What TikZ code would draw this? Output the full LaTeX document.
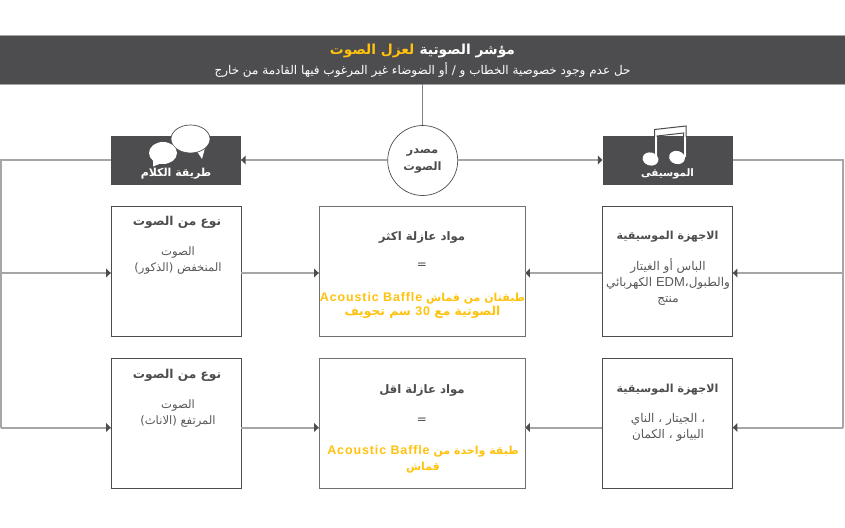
\documentclass[tikz,border=0pt]{standalone}
\usepackage{fontspec}
\usetikzlibrary{calc}
\TeXXeTstate=1
\newfontfamily\arabicfont[Script=Arabic]{DejaVu Sans}
\newfontfamily\latinfont[LetterSpace=7]{Liberation Sans}
\newfontfamily\latinplain{Liberation Sans}
\definecolor{dk}{HTML}{4D4D4F}
\definecolor{ln}{HTML}{A6A6A6}
\definecolor{tx}{HTML}{58595B}
\definecolor{yl}{HTML}{FFC20E}
\newcommand{\ar}[1]{\arabicfont\beginR #1\endR}
\newcommand{\lt}[1]{\beginL{\latinfont\fontsize{12.5}{14}\selectfont #1}\endL}
\newcommand{\ltp}[1]{\beginL{\latinplain\fontsize{13}{14}\selectfont #1}\endL}
% arrowheads: #1 = tip point, #2 = +1 pointing left (body to the right), -1 pointing right
\newcommand{\tiphead}[2]{\fill[dk] #1 -- ++(#2*4.5,-4.5) -- ++(0,9) -- cycle;}
\tikzset{
  boxnode/.style={draw=dk,fill=white,line width=.8pt,inner sep=0pt,minimum width=130pt,minimum height=130pt},
  midbox/.style={boxnode,draw=dk!80,minimum width=206pt},
  headbox/.style={fill=dk,inner sep=0pt,minimum width=130pt,minimum height=49pt},
  conn/.style={draw=ln,line width=2pt},
  heading/.style={text=dk,font=\fontsize{11.7}{14}\selectfont\bfseries,inner sep=0pt},
  body/.style={text=tx,align=center,font=\fontsize{12}{16}\selectfont,inner sep=0pt},
  accent/.style={text=yl,align=center,font=\fontsize{11}{14}\selectfont\bfseries,inner sep=0pt},
  headlabel/.style={text=white,font=\fontsize{11}{13}\selectfont\bfseries,inner sep=0pt}
}
\begin{document}
\begin{tikzpicture}[x=1pt,y=-1pt]
\useasboundingbox (0,0) rectangle (845,527);
% reference rows for the connectors
\coordinate (rowa) at (0,160);
\coordinate (rowb) at (0,273);
\coordinate (rowc) at (0,427.5);
\node[fill=dk,draw=ln,line width=.4pt,minimum width=847pt,minimum height=49pt,inner sep=0pt] (banner) at (422.5,59.5) {};
\node[headbox] (hl) at (176,160.5) {};
\node[headbox] (hr) at (667.5,160.5) {};
\node[boxnode] (la) at (176,271) {};
\node[boxnode] (lb) at (176,423.5) {};
\node[midbox] (ma) at (422,271) {};
\node[midbox] (mb) at (422,423.5) {};
\node[boxnode] (ra) at (667.5,271) {};
\node[boxnode] (rb) at (667.5,423.5) {};
\node[circle,draw=dk,line width=.7pt,fill=white,minimum size=70pt,inner sep=0pt] (src) at (422.7,160.5) {};
\coordinate (lbus) at (1,160);
\coordinate (rbus) at (843,160);
% connectors
\draw[line width=.8pt,draw=dk!70] (banner.south -| src) -- (src.north);
\draw[conn] (src.west |- rowa) -- (hl.east |- rowa);
\draw[conn] (src.east |- rowa) -- (hr.west |- rowa);
\draw[conn] (hl.west |- rowa) -- (lbus) -- (lbus |- rowc);
\draw[conn] (lbus |- rowb) -- (la.west |- rowb);
\draw[conn] (lbus |- rowc) -- (lb.west |- rowc);
\draw[conn] (hr.east |- rowa) -- (rbus) -- (rbus |- rowc);
\draw[conn] (rbus |- rowb) -- (ra.east |- rowb);
\draw[conn] (rbus |- rowc) -- (rb.east |- rowc);
\draw[conn] (la.east |- rowb) -- (ma.west |- rowb);
\draw[conn] (lb.east |- rowc) -- (mb.west |- rowc);
\draw[conn] (ra.west |- rowb) -- (ma.east |- rowb);
\draw[conn] (rb.west |- rowc) -- (mb.east |- rowc);
% arrowheads
\tiphead{(hl.east |- rowa)}{1}
\tiphead{(hr.west |- rowa)}{-1}
\tiphead{(la.west |- rowb)}{-1}
\tiphead{(lb.west |- rowc)}{-1}
\tiphead{(ra.east |- rowb)}{1}
\tiphead{(rb.east |- rowc)}{1}
\tiphead{(ma.west |- rowb)}{-1}
\tiphead{(mb.west |- rowc)}{-1}
\tiphead{(ma.east |- rowb)}{1}
\tiphead{(mb.east |- rowc)}{1}
% music icon
\fill[white,draw=dk,line width=1pt] (654.5,158) -- (654.5,129.5) -- (686,126) -- (686,157) -- (683.5,157) -- (683.5,133) -- (657,136) -- (657,158) -- cycle;
\fill[white] (650.5,159) ellipse[x radius=8pt,y radius=6.5pt,rotate=-15];
\fill[white] (677,157.5) ellipse[x radius=8pt,y radius=6.5pt,rotate=-15];
\fill[white] (654.5,136.5) rectangle (657,158);
\fill[white] (683.5,136.5) rectangle (686,157);
% speech icon
\fill[white] (196,150) -- (202,159) -- (205,148) -- cycle;
\fill[white,draw=dk,line width=.7pt] (190.5,139) ellipse[x radius=19.5pt,y radius=14pt];
\fill[white] (153,158) -- (153,166.5) -- (162,163) -- cycle;
\fill[white] (163,153) ellipse[x radius=14pt,y radius=11pt];
% texts
\node[text=white,font=\fontsize{13.8}{16}\selectfont\bfseries,inner sep=0pt] (t1) at (422.5,50.5) {\textcolor{yl}{\ar{لعزل الصوت}} \ar{مؤشر الصوتية}};
\node[text=white,font=\fontsize{12}{14}\selectfont,inner sep=0pt] (t2) at (422.5,70) {\ar{حل عدم وجود خصوصية الخطاب و / أو الضوضاء غير المرغوب فيها القادمة من خارج}};
\node[headlabel] (t3) at (176,173.5) {\ar{طريقة الكلام}};
\node[headlabel,font=\fontsize{10.3}{13}\selectfont\bfseries] (t4) at (667.5,174) {\ar{الموسيقى}};
\node[heading,align=center,font=\fontsize{11.5}{17}\selectfont\bfseries] (t5) at (422.5,161) {\ar{مصدر}\\\ar{الصوت}};
\node[heading,font=\fontsize{12.2}{14}\selectfont\bfseries] (t6) at (177,222) {\ar{نوع من الصوت}};
\node[body,font=\fontsize{11.6}{16}\selectfont] (t7) at (178,260.5) {\ar{الصوت}\\\ar{المنخفض (الذكور)}};
\node[heading,font=\fontsize{12.2}{14}\selectfont\bfseries] (t8) at (177,375) {\ar{نوع من الصوت}};
\node[body,font=\fontsize{11.6}{16}\selectfont] (t9) at (178,414) {\ar{الصوت}\\\ar{المرتفع (الاناث)}};
\node[heading] (t10) at (422,237) {\ar{مواد عازلة اكثر}};
\node[body,text=dk,font=\arabicfont\fontsize{12}{16}\selectfont] (t11) at (422,266) {=};
\node[accent] (t12) at (422.5,305) {\ar{طبقتان من قماش \lt{Acoustic Baffle}}\\{\fontsize{12.3}{14}\selectfont\ar{الصوتية مع \lt{30} سم تجويف}}};
\node[heading] (t13) at (422,390.5) {\ar{مواد عازلة اقل}};
\node[body,text=dk,font=\arabicfont\fontsize{12}{16}\selectfont] (t14) at (422,421) {=};
\node[accent,font=\fontsize{11}{16}\selectfont\bfseries] (t15) at (423,459) {\ar{طبقة واحدة من \lt{Acoustic Baffle}}\\\ar{قماش}};
\node[heading,font=\fontsize{11.1}{14}\selectfont\bfseries] (t16) at (667.5,236.5) {\ar{الاجهزة الموسيقية}};
\node[body] (t17) at (668,281.5) {\ar{الباس أو الغيتار}\\\ar{والطبول،\ltp{EDM} الكهربائي}\\\ar{منتج}};
\node[heading,font=\fontsize{11.1}{14}\selectfont\bfseries] (t18) at (667.5,389.5) {\ar{الاجهزة الموسيقية}};
\node[body] (t19) at (668,427) {\ar{، الجيتار ، الناي}\\\ar{البيانو ، الكمان}};
\end{tikzpicture}
\end{document}
